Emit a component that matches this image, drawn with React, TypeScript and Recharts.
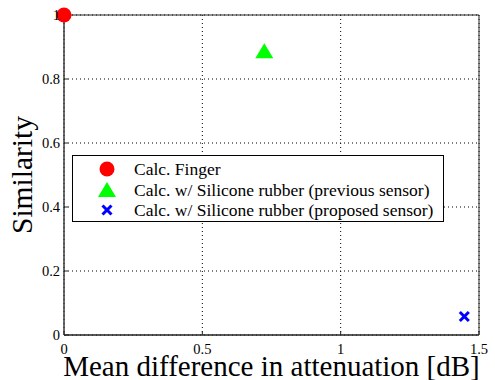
import { CartesianGrid, Legend, ReferenceArea, Scatter, ScatterChart, XAxis, YAxis } from 'recharts';

const fingerPts = [{ x: 0, y: 1 }];
const previousPts = [{ x: 0.724, y: 0.887 }];
const proposedPts = [{ x: 1.447, y: 0.058 }];

const xTicks = [0, 0.5, 1, 1.5];
const yTicks = [0, 0.2, 0.4, 0.6, 0.8, 1];

const seriesNames = [
  'Calc. Finger',
  'Calc. w/ Silicone rubber (previous sensor)',
  'Calc. w/ Silicone rubber (proposed sensor)',
];

const FONT = '"Liberation Serif", "Times New Roman", serif';

function Circle(p: any) {
  return <circle cx={p.cx} cy={p.cy} r={7.5} fill="#ff0000" />;
}

function Triangle(p: any) {
  const { cx, cy } = p;
  return <polygon points={`${cx},${cy - 8} ${cx - 9},${cy + 7} ${cx + 9},${cy + 7}`} fill="#00ff00" />;
}

function Cross(p: any) {
  const { cx, cy } = p;
  return (
    <g stroke="#0000ff" strokeWidth={3}>
      <line x1={cx - 4.5} y1={cy - 4.5} x2={cx + 4.5} y2={cy + 4.5} />
      <line x1={cx - 4.5} y1={cy + 4.5} x2={cx + 4.5} y2={cy - 4.5} />
    </g>
  );
}

const icons = [
  <circle cx={10} cy={10} r={7.5} fill="#ff0000" />,
  <polygon points="10,2 1,17 19,17" fill="#00ff00" />,
  <g stroke="#0000ff" strokeWidth={3}>
    <line x1={5.5} y1={5.5} x2={14.5} y2={14.5} />
    <line x1={5.5} y1={14.5} x2={14.5} y2={5.5} />
  </g>,
];

function LegendBox() {
  return (
    <div
      style={{
        border: '1px solid #000',
        background: '#fff',
        width: 372,
        height: 67,
        boxSizing: 'border-box',
        fontFamily: FONT,
        fontSize: 17.5,
        lineHeight: '20px',
        paddingTop: 3,
      }}
    >
      {seriesNames.map((name, i) => (
        <div key={name} style={{ display: 'flex', alignItems: 'center', height: 20.5 }}>
          <svg width={20} height={20} style={{ marginLeft: 24, marginRight: 17 }}>
            {icons[i]}
          </svg>
          <span style={{ whiteSpace: 'nowrap' }}>{name}</span>
        </div>
      ))}
    </div>
  );
}

export default function App() {
  return (
    <div style={{ position: 'absolute', left: 0, top: 0, fontFamily: FONT }}>
      <ScatterChart
        width={495}
        height={380}
        margin={{ top: 15, right: 16, left: 0, bottom: 0 }}
        style={{ fontFamily: FONT }}
      >
        <CartesianGrid stroke="#000" strokeDasharray="1 3" />
        <ReferenceArea x1={0} x2={1.5} y1={0} y2={1} fill="none" stroke="#222" strokeWidth={1} />
        <XAxis
          type="number"
          dataKey="x"
          domain={[0, 1.5]}
          ticks={xTicks}
          tickFormatter={(v: number) => String(v)}
          height={45}
          tickSize={-4}
          tickMargin={13}
          tickLine={{ stroke: '#222' }}
          axisLine={{ stroke: '#222' }}
          tick={{ fill: '#000', fontFamily: FONT, fontSize: 14.5 }}
          label={{
            value: 'Mean difference in attenuation [dB]',
            position: 'insideBottom',
            offset: 4,
            fill: '#000',
            fontFamily: FONT,
            fontSize: 29,
          }}
        />
        <YAxis
          type="number"
          dataKey="y"
          domain={[0, 1]}
          ticks={yTicks}
          tickFormatter={(v: number) => String(v)}
          width={64}
          tickSize={-4}
          tickMargin={8}
          tickLine={{ stroke: '#222' }}
          axisLine={{ stroke: '#444' }}
          tick={{ fill: '#000', fontFamily: FONT, fontSize: 14.5 }}
          label={{
            value: 'Similarity',
            angle: -90,
            position: 'insideLeft',
            offset: 22,
            fill: '#000',
            fontFamily: FONT,
            fontSize: 29.5,
            style: { textAnchor: 'middle' },
          }}
        />
        <Legend
          content={() => <LegendBox />}
          layout="vertical"
          verticalAlign="middle"
          align="center"
          wrapperStyle={{ left: 72, top: 155, width: 'auto' }}
        />
        <Scatter name={seriesNames[0]} data={fingerPts} shape={Circle} isAnimationActive={false} />
        <Scatter name={seriesNames[1]} data={previousPts} shape={Triangle} isAnimationActive={false} />
        <Scatter name={seriesNames[2]} data={proposedPts} shape={Cross} isAnimationActive={false} />
      </ScatterChart>
    </div>
  );
}
